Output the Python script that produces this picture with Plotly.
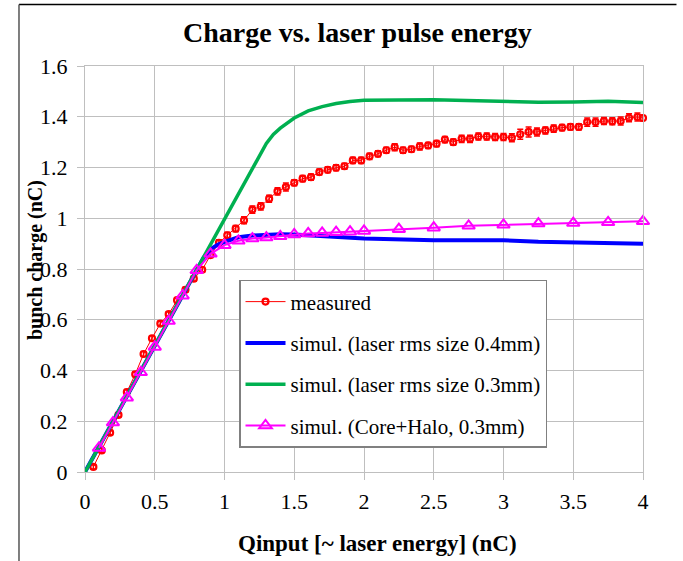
import plotly.graph_objects as go

# Measured bunch charge (nC) vs. input charge (nC)
measured_x = [0.06, 0.12, 0.18, 0.24, 0.30, 0.36, 0.42, 0.48, 0.54, 0.60,
              0.66, 0.72, 0.78, 0.84, 0.90, 0.96, 1.02, 1.08, 1.14, 1.20,
              1.26, 1.32, 1.38, 1.44, 1.50, 1.56, 1.62, 1.68, 1.74, 1.80,
              1.86, 1.92, 1.98, 2.04, 2.10, 2.16, 2.22, 2.28, 2.34, 2.40,
              2.46, 2.52, 2.58, 2.64, 2.70, 2.76, 2.82, 2.88, 2.94, 3.00,
              3.06, 3.12, 3.18, 3.24, 3.30, 3.36, 3.42, 3.48, 3.54, 3.60,
              3.66, 3.72, 3.78, 3.84, 3.90, 3.96, 4.00]
measured_y = [0.020, 0.085, 0.155, 0.225, 0.315, 0.385, 0.465, 0.527, 0.585, 0.622,
              0.677, 0.718, 0.762, 0.797, 0.855, 0.903, 0.933, 0.959, 0.992, 1.034,
              1.047, 1.077, 1.106, 1.123, 1.140, 1.156, 1.162, 1.182, 1.191, 1.199,
              1.205, 1.228, 1.228, 1.244, 1.254, 1.268, 1.280, 1.268, 1.272, 1.283,
              1.287, 1.294, 1.310, 1.300, 1.313, 1.313, 1.322, 1.322, 1.320, 1.320,
              1.317, 1.331, 1.340, 1.340, 1.346, 1.353, 1.357, 1.360, 1.360, 1.379,
              1.379, 1.383, 1.382, 1.383, 1.396, 1.399, 1.395]
measured_err = [0.008, 0.008, 0.008, 0.008, 0.010, 0.010, 0.010, 0.010, 0.010, 0.010,
                0.010, 0.010, 0.010, 0.010, 0.010, 0.012, 0.012, 0.012, 0.014, 0.014,
                0.014, 0.014, 0.014, 0.016, 0.012, 0.012, 0.012, 0.012, 0.012, 0.012,
                0.012, 0.012, 0.012, 0.012, 0.012, 0.012, 0.014, 0.012, 0.012, 0.014,
                0.012, 0.012, 0.012, 0.012, 0.014, 0.014, 0.014, 0.014, 0.014, 0.014,
                0.016, 0.020, 0.020, 0.016, 0.014, 0.014, 0.012, 0.012, 0.012, 0.016,
                0.016, 0.014, 0.014, 0.016, 0.016, 0.016, 0.012]

# Simulation, laser rms size 0.4 mm
sim04_x = [0, 0.2, 0.4, 0.6, 0.8, 0.85, 0.9, 0.95, 1.0, 1.1, 1.2, 1.3, 1.4,
           1.5, 1.6, 1.8, 2.0, 2.5, 3.0, 3.25, 3.5, 3.75, 4.0]
sim04_y = [0, 0.2, 0.4, 0.6, 0.8, 0.845, 0.878, 0.895, 0.907, 0.925, 0.932, 0.936, 0.937,
           0.936, 0.933, 0.925, 0.920, 0.913, 0.913, 0.907, 0.904, 0.903, 0.900]

# Simulation, laser rms size 0.3 mm
sim03_x = [0, 0.2, 0.4, 0.6, 0.8, 1.0, 1.1, 1.2, 1.25, 1.3, 1.35, 1.4, 1.5,
           1.6, 1.7, 1.8, 1.9, 2.0, 2.5, 3.0, 3.25, 3.5, 3.75, 4.0]
sim03_y = [0, 0.2, 0.4, 0.6, 0.8, 1.0, 1.1, 1.2, 1.25, 1.295, 1.33, 1.355, 1.395,
           1.423, 1.44, 1.452, 1.46, 1.465, 1.467, 1.462, 1.457, 1.458, 1.461, 1.456]

# Simulation, Core+Halo, 0.3 mm
halo_x = [0.1, 0.2, 0.3, 0.4, 0.5, 0.6, 0.7, 0.8, 0.9, 1.0, 1.1, 1.2, 1.3, 1.4,
          1.5, 1.6, 1.7, 1.8, 1.9, 2.0, 2.25, 2.5, 2.75, 3.0, 3.25, 3.5, 3.75, 4.0]
halo_y = [0.095, 0.195, 0.293, 0.393, 0.493, 0.595, 0.695, 0.795, 0.860, 0.894, 0.911,
          0.920, 0.924, 0.929, 0.936, 0.940, 0.942, 0.945, 0.947, 0.950, 0.957, 0.963,
          0.970, 0.974, 0.979, 0.981, 0.984, 0.988]

x_ticks = [0, 0.5, 1, 1.5, 2, 2.5, 3, 3.5, 4]
x_tick_text = ["0", "0.5", "1", "1.5", "2", "2.5", "3", "3.5", "4"]
y_ticks = [0, 0.2, 0.4, 0.6, 0.8, 1.0, 1.2, 1.4, 1.6]
y_tick_text = ["0", "0.2", "0.4", "0.6", "0.8", "1", "1.2", "1.4", "1.6"]

SERIF = "Liberation Serif"
GRID = "#BFBFBF"

fig = go.Figure()

fig.add_trace(go.Scatter(
    x=measured_x, y=measured_y, name="measured", legendgroup="g1",
    mode="lines+markers",
    line=dict(color="#FF0000", width=1),
    marker=dict(symbol="circle-open", size=6, color="#FF0000", line=dict(width=2.2, color="#FF0000")),
    error_y=dict(type="data", array=measured_err, visible=True,
                 color="#FF0000", thickness=1.5, width=3),
    cliponaxis=False,
))
fig.add_trace(go.Scatter(
    x=sim04_x, y=sim04_y, name="simul. (laser rms size 0.4mm)", legendgroup="g2",
    mode="lines", line=dict(color="#0000FF", width=4),
))
fig.add_trace(go.Scatter(
    x=sim03_x, y=sim03_y, name="simul. (laser rms size 0.3mm)", legendgroup="g3",
    mode="lines", line=dict(color="#00B050", width=3.5),
))
fig.add_trace(go.Scatter(
    x=halo_x, y=halo_y, name="simul. (Core+Halo, 0.3mm)", legendgroup="g4",
    mode="lines+markers",
    line=dict(color="#FF00FF", width=2),
    marker=dict(symbol="triangle-up-open", size=11, color="#FF00FF", line=dict(width=2, color="#FF00FF")),
    cliponaxis=False,
))

axis_common = dict(
    showgrid=True, gridcolor=GRID, gridwidth=1,
    showline=True, linecolor=GRID, linewidth=1, mirror=True,
    ticks="outside", ticklen=7, tickcolor=GRID, tickwidth=1,
    tickfont=dict(family=SERIF, size=22, color="#000000"),
    zeroline=False,
)

fig.update_layout(
    width=683, height=561,
    margin=dict(l=85, r=40, t=66, b=89),
    paper_bgcolor="#FFFFFF", plot_bgcolor="#FFFFFF",
    showlegend=True,
    xaxis=dict(range=[0, 4], tickvals=x_ticks, ticktext=x_tick_text,
               ticklabelstandoff=3, **axis_common),
    yaxis=dict(range=[0, 1.6], tickvals=y_ticks, ticktext=y_tick_text,
               ticklabelstandoff=5, **axis_common),
    legend=dict(
        x=0.276, y=0.473, xanchor="left", yanchor="top",
        bgcolor="#FFFFFF", bordercolor="#808080", borderwidth=1.5,
        font=dict(family=SERIF, size=21, color="#000000"),
        tracegroupgap=11, itemwidth=40,
    ),
    annotations=[
        dict(text="<b>Charge vs. laser pulse energy</b>", xref="paper", yref="paper",
             x=0.489, y=1.0837, xanchor="center", yanchor="middle", showarrow=False,
             font=dict(family=SERIF, size=28, color="#000000")),
        dict(text="<b>Qinput [~ laser energy] (nC)</b>", xref="paper", yref="paper",
             x=0.524, y=-0.175, xanchor="center", yanchor="middle", showarrow=False,
             font=dict(family=SERIF, size=23, color="#000000")),
        dict(text="<b>bunch charge (nC)</b>", xref="paper", yref="paper",
             x=-0.0896, y=0.522, xanchor="center", yanchor="middle", showarrow=False,
             textangle=-90, font=dict(family=SERIF, size=20, color="#000000")),
    ],
    shapes=[
        # outer frame: top and left edges
        dict(type="line", xref="paper", yref="paper", x0=-0.1183, x1=1.06, y0=1.1515, y1=1.1515,
             line=dict(color="#000000", width=1.5)),
        dict(type="line", xref="paper", yref="paper", x0=-0.1183, x1=-0.1183, y0=1.1515, y1=-0.25,
             line=dict(color="#555555", width=1.5)),
    ],
)

fig.write_html("out.html")
